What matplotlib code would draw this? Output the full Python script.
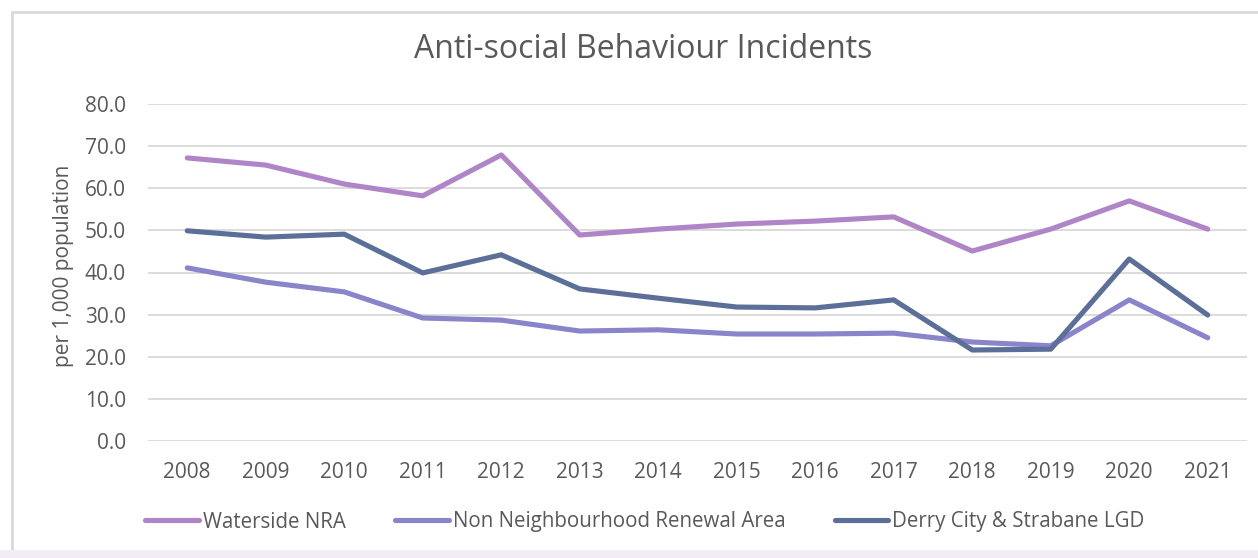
import matplotlib
matplotlib.use("Agg")
import matplotlib.pyplot as plt
from matplotlib.patches import Rectangle

years = ['2008', '2009', '2010', '2011', '2012', '2013', '2014',
         '2015', '2016', '2017', '2018', '2019', '2020', '2021']
waterside = [67.2, 65.5, 61.0, 58.2, 67.9, 48.9, 50.3,
             51.5, 52.2, 53.2, 45.1, 50.3, 57.0, 50.3]
non_nra = [41.1, 37.7, 35.4, 29.2, 28.7, 26.1, 26.4,
           25.4, 25.4, 25.6, 23.5, 22.6, 33.5, 24.5]
derry = [49.9, 48.4, 49.1, 39.9, 44.2, 36.1, 33.9,
         31.8, 31.6, 33.5, 21.6, 21.8, 43.2, 29.9]

series_names = ['Waterside NRA', 'Non Neighbourhood Renewal Area',
                'Derry City & Strabane LGD']
colors = ['#B085C8', '#8A85CA', '#5B6F98']
grey = '#595959'

plt.rcParams['font.family'] = ['Open Sans', 'DejaVu Sans']

W, H = 1258, 558
fig = plt.figure(figsize=(W / 100, H / 100), dpi=100)

# chart frame
fig.patches.append(Rectangle((12 / W, 6 / H), 1.2, (546 - 6) / H,
                             transform=fig.transFigure, facecolor='white',
                             edgecolor='#D9D9D9', linewidth=2, zorder=-10))
fig.patches.append(Rectangle((0, 0), 1, 8 / H, transform=fig.transFigure,
                             facecolor='#F1ECF6', edgecolor='none', zorder=-10))

ax = fig.add_axes([148 / W, 1 - 441 / H, (1247 - 148) / W, (441 - 104) / H])
ax.set_facecolor('none')
ax.set_zorder(5)

x = list(range(len(years)))
for vals, name, c in zip([waterside, non_nra, derry], series_names, colors):
    ax.plot(x, vals, color=c, linewidth=3.7, label=name,
            solid_joinstyle='round', solid_capstyle='round')

ax.set_xlim(-0.5, len(years) - 0.5)
ax.set_ylim(0, 80)
ax.set_yticks(range(0, 81, 10))
ax.set_yticklabels([f'{v:.1f}' for v in range(0, 81, 10)])
ax.set_xticks(x)
ax.set_xticklabels(years)
ax.grid(axis='y', color='#D9D9D9', linewidth=1.3)
ax.set_axisbelow(True)
for s in ax.spines.values():
    s.set_visible(False)
ax.tick_params(axis='both', length=0, labelsize=15, colors=grey)
ax.tick_params(axis='y', pad=16)
ax.tick_params(axis='x', pad=15)
ax.set_ylabel('per 1,000 population', fontsize=15, color=grey)
ax.yaxis.set_label_coords(-0.067, 0.52)

fig.text(643 / W, 1 - 50 / H, 'Anti-social Behaviour Incidents',
         ha='center', va='center', fontsize=23, color=grey, zorder=10)

fig.legend(loc='center', bbox_to_anchor=(645 / W, 1 - 522 / H), ncol=3,
           frameon=False, fontsize=14.8, labelcolor=grey, handlelength=2.6,
           handletextpad=0.2, columnspacing=2.4)

fig.savefig('out.png', dpi=100)
